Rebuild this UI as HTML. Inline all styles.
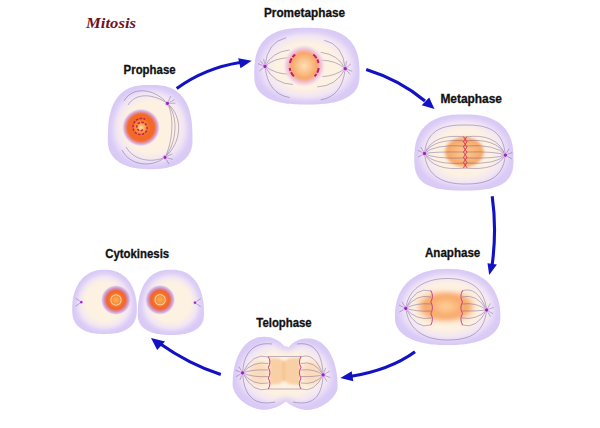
<!DOCTYPE html>
<html><head><meta charset="utf-8"><style>
html,body{margin:0;padding:0;background:#fff;width:600px;height:428px;overflow:hidden}
svg{display:block}
</style></head><body>
<svg width="600" height="428" viewBox="0 0 600 428">

<defs>
<filter id="rim" x="-10%" y="-10%" width="120%" height="120%" color-interpolation-filters="sRGB">
 <feFlood flood-color="#d9caf6" result="p"/>
 <feComposite in="p" in2="SourceAlpha" operator="in" result="pa"/>
 <feMorphology in="SourceAlpha" operator="erode" radius="3" result="e"/>
 <feGaussianBlur in="e" stdDeviation="3" result="b"/>
 <feComposite in="SourceGraphic" in2="b" operator="in" result="c"/>
 <feComposite in="c" in2="SourceAlpha" operator="in" result="cc"/>
 <feMerge><feMergeNode in="pa"/><feMergeNode in="cc"/></feMerge>
</filter>
<radialGradient id="cg" cx="50%" cy="50%" r="50%">
<stop offset="0" stop-color="#fdf1e2"/><stop offset="0.6" stop-color="#fdf1e2"/>
<stop offset="0.8" stop-color="#f2e6f4"/><stop offset="0.95" stop-color="#e0d2f6"/><stop offset="1" stop-color="#dacbf6"/></radialGradient>
<filter id="soft" x="-30%" y="-30%" width="160%" height="160%"><feGaussianBlur stdDeviation="1.6"/></filter>
<filter id="soft2" x="-30%" y="-30%" width="160%" height="160%"><feGaussianBlur stdDeviation="0.8"/></filter>
<filter id="soft3" x="-30%" y="-50%" width="160%" height="200%"><feGaussianBlur stdDeviation="2.2"/></filter>
<radialGradient id="orM" cx="50%" cy="50%" r="50%">
<stop offset="0" stop-color="#fccc94"/><stop offset="0.55" stop-color="#f9b476"/>
<stop offset="0.85" stop-color="#f8a868"/><stop offset="1" stop-color="#f9bc88" stop-opacity="0.3"/></radialGradient>
<radialGradient id="orA" cx="50%" cy="50%" r="50%">
<stop offset="0" stop-color="#fdd4a0"/><stop offset="0.45" stop-color="#f9b274"/>
<stop offset="0.75" stop-color="#f8a666"/><stop offset="1" stop-color="#f9c090" stop-opacity="0.2"/></radialGradient>
<radialGradient id="nucR" cx="50%" cy="50%" r="50%">
<stop offset="0" stop-color="#fde0a0"/><stop offset="0.14" stop-color="#fcb466"/>
<stop offset="0.32" stop-color="#f88038"/><stop offset="0.5" stop-color="#f46824"/>
<stop offset="0.7" stop-color="#f26a2c"/><stop offset="0.8" stop-color="#e48a90"/>
<stop offset="0.9" stop-color="#dab8e6"/>
<stop offset="1" stop-color="#e6d6f4" stop-opacity="0"/></radialGradient>
<radialGradient id="nucC" cx="50%" cy="50%" r="50%">
<stop offset="0" stop-color="#fbb850"/><stop offset="0.2" stop-color="#f89640"/>
<stop offset="0.28" stop-color="#f88c3c"/><stop offset="0.34" stop-color="#fcd4a8"/><stop offset="0.4" stop-color="#f67a34"/>
<stop offset="0.56" stop-color="#f46622"/><stop offset="0.66" stop-color="#ea6e48"/>
<stop offset="0.78" stop-color="#d290c0"/><stop offset="0.9" stop-color="#d8bce8"/><stop offset="1" stop-color="#e0d0f2" stop-opacity="0"/></radialGradient>
<radialGradient id="nucP" cx="50%" cy="50%" r="50%">
<stop offset="0" stop-color="#fde0b4"/><stop offset="0.35" stop-color="#fac08a"/>
<stop offset="0.6" stop-color="#f8a868"/><stop offset="0.7" stop-color="#f4b0a0"/>
<stop offset="0.84" stop-color="#f0cce0"/>
<stop offset="1" stop-color="#f0d8ee" stop-opacity="0"/></radialGradient>
<radialGradient id="orB" cx="50%" cy="50%" r="50%">
<stop offset="0" stop-color="#fcd09c"/><stop offset="0.5" stop-color="#f9b47c"/>
<stop offset="0.78" stop-color="#f8ac70"/>
<stop offset="1" stop-color="#fad4b4" stop-opacity="0"/></radialGradient>
<radialGradient id="cs" cx="50%" cy="50%" r="50%">
<stop offset="0" stop-color="#8424b4"/><stop offset="0.38" stop-color="#9a34c4"/>
<stop offset="0.55" stop-color="#e0a0ee"/><stop offset="1" stop-color="#f8d8f8" stop-opacity="0"/></radialGradient>
</defs>
<text x="86" y="28" font-family="Liberation Serif" font-weight="bold" font-style="italic" font-size="15" fill="#701424" textLength="50" lengthAdjust="spacingAndGlyphs">Mitosis</text>
<text x="123.6" y="73.8" font-family="Liberation Sans" font-weight="bold" font-size="12.4" fill="#111" stroke="#111" stroke-width="0.3" textLength="52" lengthAdjust="spacingAndGlyphs">Prophase</text>
<text x="264" y="17.4" font-family="Liberation Sans" font-weight="bold" font-size="12.4" fill="#111" stroke="#111" stroke-width="0.3" textLength="81" lengthAdjust="spacingAndGlyphs">Prometaphase</text>
<text x="440.4" y="103.4" font-family="Liberation Sans" font-weight="bold" font-size="12.4" fill="#111" stroke="#111" stroke-width="0.3" textLength="61.6" lengthAdjust="spacingAndGlyphs">Metaphase</text>
<text x="425" y="257.1" font-family="Liberation Sans" font-weight="bold" font-size="12.4" fill="#111" stroke="#111" stroke-width="0.3" textLength="55.3" lengthAdjust="spacingAndGlyphs">Anaphase</text>
<text x="256.3" y="326.8" font-family="Liberation Sans" font-weight="bold" font-size="12.4" fill="#111" stroke="#111" stroke-width="0.3" textLength="55.4" lengthAdjust="spacingAndGlyphs">Telophase</text>
<text x="105.2" y="257.9" font-family="Liberation Sans" font-weight="bold" font-size="12.4" fill="#111" stroke="#111" stroke-width="0.3" textLength="64" lengthAdjust="spacingAndGlyphs">Cytokinesis</text>
<path d="M192.45,140.04 L192.42,141.93 L192.34,143.43 L192.20,144.81 L192.01,146.11 L191.76,147.36 L191.46,148.56 L191.11,149.72 L190.70,150.84 L190.23,151.92 L189.71,152.98 L189.14,154.00 L188.52,154.98 L187.85,155.94 L187.12,156.87 L186.34,157.77 L185.52,158.63 L184.64,159.46 L183.71,160.26 L182.74,161.03 L181.71,161.77 L180.64,162.48 L179.52,163.15 L178.36,163.79 L177.15,164.39 L175.89,164.96 L174.59,165.50 L173.25,166.00 L171.85,166.46 L170.42,166.89 L168.94,167.28 L167.41,167.64 L165.83,167.96 L164.20,168.24 L162.52,168.48 L160.78,168.69 L158.97,168.86 L157.08,169.00 L155.07,169.09 L152.89,169.15 L150.15,169.17 L147.41,169.15 L145.23,169.09 L143.22,169.00 L141.33,168.86 L139.52,168.69 L137.78,168.48 L136.10,168.24 L134.47,167.96 L132.89,167.64 L131.36,167.28 L129.88,166.89 L128.45,166.46 L127.06,166.00 L125.71,165.50 L124.41,164.96 L123.15,164.39 L121.94,163.79 L120.78,163.15 L119.66,162.48 L118.59,161.77 L117.57,161.03 L116.59,160.26 L115.66,159.46 L114.79,158.63 L113.96,157.77 L113.18,156.87 L112.45,155.94 L111.78,154.98 L111.16,154.00 L110.59,152.98 L110.07,151.92 L109.61,150.84 L109.20,149.72 L108.84,148.56 L108.54,147.36 L108.29,146.11 L108.10,144.81 L107.96,143.43 L107.88,141.93 L107.85,140.04 L107.87,135.00 L107.95,131.64 L108.07,128.71 L108.23,126.05 L108.45,123.57 L108.72,121.24 L109.03,119.02 L109.39,116.91 L109.80,114.89 L110.25,112.95 L110.75,111.09 L111.30,109.31 L111.90,107.59 L112.55,105.95 L113.24,104.37 L113.98,102.85 L114.76,101.40 L115.60,100.01 L116.47,98.68 L117.40,97.41 L118.37,96.21 L119.40,95.06 L120.46,93.98 L121.58,92.95 L122.74,91.99 L123.96,91.09 L125.22,90.25 L126.54,89.47 L127.91,88.76 L129.34,88.10 L130.83,87.51 L132.38,86.98 L134.00,86.51 L135.70,86.10 L137.50,85.76 L139.40,85.48 L141.45,85.26 L143.69,85.10 L146.28,85.01 L150.15,84.98 L154.02,85.01 L156.61,85.10 L158.85,85.26 L160.90,85.48 L162.80,85.76 L164.60,86.10 L166.30,86.51 L167.92,86.98 L169.47,87.51 L170.96,88.10 L172.39,88.76 L173.76,89.47 L175.08,90.25 L176.34,91.09 L177.56,91.99 L178.72,92.95 L179.84,93.98 L180.91,95.06 L181.93,96.21 L182.90,97.41 L183.83,98.68 L184.71,100.01 L185.54,101.40 L186.32,102.85 L187.06,104.37 L187.75,105.95 L188.40,107.59 L189.00,109.31 L189.55,111.09 L190.05,112.95 L190.50,114.89 L190.91,116.91 L191.27,119.02 L191.59,121.24 L191.85,123.57 L192.07,126.05 L192.23,128.71 L192.36,131.64 L192.43,135.00 Z" fill="url(#cg)" filter="url(#rim)"/>
<path d="M167.4,103.4 C174.82000000000002,117 172.42000000000002,143 165,157.3 M167.4,103.4 C179.02,117 176.62,143 165,157.3 M167.4,103.4 C183.92000000000002,117 181.52,143 165,157.3 M167.4,103.4 C154,88 132,86 124,101 M167.4,103.4 C154,94 136,92 128,105 M165,157.3 C152,168 130,166 122,150 M165,157.3 C152,163 134,161 126,147 M167.4,103.4 L170.8,96.1 M167.4,103.4 L174.5,99.6 M167.4,103.4 L175.4,103.1 M165,157.3 L172.3,153.9 M165,157.3 L172.7,159.4 M165,157.3 L169.0,164.2" fill="none" stroke="#5a4a84" stroke-width="0.65" stroke-opacity="0.62" />
<circle cx="141" cy="127.5" r="19" fill="url(#nucR)"/>
<path d="M142.8,129.6 L142.5,129.9 L142.2,130.2 L141.8,130.4 L141.4,130.6 L141.0,130.7 L140.5,130.7 L140.1,130.7 L139.6,130.6 L139.1,130.5 L138.6,130.2 L138.2,129.9 L137.8,129.6 L137.5,129.1 L137.2,128.7 L137.0,128.1 L136.9,127.6 L136.8,127.0 L136.8,126.4 L137.0,125.7 L137.2,125.1 L137.5,124.6 L137.9,124.0 L138.3,123.6 L138.9,123.2 L139.5,122.8 L140.1,122.6 L140.8,122.4 L141.6,122.3 L142.3,122.4 L143.1,122.5 L143.8,122.8 L144.5,123.2 L145.1,123.7 L145.7,124.2 L146.2,124.9 L146.6,125.6 L146.9,126.4 L147.1,127.2 L147.1,128.1 L147.1,129.0 L146.9,129.8 L146.6,130.7 L146.1,131.5 L145.6,132.2 L144.9,132.9 L144.2,133.5 L143.3,134.0 L142.4,134.3 L141.4,134.5 L140.4,134.6 L139.4,134.5 L138.4,134.3 L137.4,134.0 L136.5,133.5 L135.6,132.8 L134.9,132.1 L134.2,131.2 L133.7,130.3 L133.3,129.2 L133.0,128.1 L132.9,127.0 L133.0,125.8 L133.2,124.7 L133.6,123.6 L134.2,122.5 L134.9,121.6 L135.7,120.7 L136.7,119.9 L137.8,119.3 L138.9,118.9 L140.2,118.6 L141.4,118.5 L142.7,118.5 L144.0,118.8 L145.2,119.2" fill="none" stroke="#b8184a" stroke-width="1.5" stroke-dasharray="2.6 1.3" opacity="0.9"/>
<circle cx="167.4" cy="103.4" r="3.2" fill="url(#cs)"/><circle cx="165" cy="157.3" r="3.2" fill="url(#cs)"/>
<path d="M359.53,75.01 L359.50,77.39 L359.40,79.08 L359.24,80.59 L359.02,81.98 L358.74,83.29 L358.39,84.53 L357.98,85.71 L357.51,86.84 L356.98,87.94 L356.38,88.99 L355.73,90.00 L355.01,90.97 L354.23,91.91 L353.39,92.82 L352.49,93.69 L351.53,94.52 L350.51,95.33 L349.43,96.10 L348.29,96.84 L347.09,97.54 L345.84,98.21 L344.52,98.85 L343.14,99.46 L341.71,100.03 L340.22,100.57 L338.66,101.07 L337.05,101.54 L335.37,101.98 L333.64,102.38 L331.83,102.75 L329.96,103.08 L328.01,103.38 L325.98,103.64 L323.87,103.87 L321.66,104.07 L319.33,104.23 L316.85,104.35 L314.16,104.44 L311.14,104.49 L306.89,104.51 L302.65,104.49 L299.62,104.44 L296.93,104.35 L294.46,104.23 L292.13,104.07 L289.91,103.87 L287.80,103.64 L285.77,103.38 L283.83,103.08 L281.95,102.75 L280.15,102.38 L278.41,101.98 L276.73,101.54 L275.12,101.07 L273.57,100.57 L272.07,100.03 L270.64,99.46 L269.27,98.85 L267.95,98.21 L266.69,97.54 L265.49,96.84 L264.36,96.10 L263.28,95.33 L262.26,94.52 L261.29,93.69 L260.39,92.82 L259.55,91.91 L258.78,90.97 L258.06,90.00 L257.40,88.99 L256.81,87.94 L256.27,86.84 L255.80,85.71 L255.39,84.53 L255.05,83.29 L254.76,81.98 L254.54,80.59 L254.38,79.08 L254.29,77.39 L254.26,75.01 L254.29,70.58 L254.38,67.67 L254.52,65.14 L254.73,62.85 L255.00,60.72 L255.32,58.71 L255.71,56.81 L256.15,55.00 L256.66,53.27 L257.22,51.61 L257.84,50.03 L258.52,48.50 L259.25,47.04 L260.05,45.63 L260.90,44.28 L261.81,42.99 L262.78,41.75 L263.81,40.57 L264.90,39.43 L266.04,38.36 L267.24,37.33 L268.50,36.36 L269.83,35.43 L271.21,34.56 L272.65,33.75 L274.15,32.98 L275.72,32.27 L277.35,31.60 L279.05,31.00 L280.82,30.44 L282.66,29.94 L284.59,29.48 L286.61,29.09 L288.73,28.74 L290.96,28.45 L293.34,28.21 L295.89,28.02 L298.71,27.89 L301.96,27.81 L306.89,27.78 L311.82,27.81 L315.08,27.89 L317.89,28.02 L320.45,28.21 L322.82,28.45 L325.06,28.74 L327.18,29.09 L329.19,29.48 L331.12,29.94 L332.97,30.44 L334.74,31.00 L336.44,31.60 L338.07,32.27 L339.63,32.98 L341.14,33.75 L342.58,34.56 L343.96,35.43 L345.28,36.36 L346.54,37.33 L347.74,38.36 L348.89,39.43 L349.97,40.57 L351.00,41.75 L351.97,42.99 L352.88,44.28 L353.74,45.63 L354.53,47.04 L355.27,48.50 L355.95,50.03 L356.57,51.61 L357.13,53.27 L357.63,55.00 L358.08,56.81 L358.46,58.71 L358.79,60.72 L359.05,62.85 L359.26,65.14 L359.41,67.67 L359.50,70.58 Z" fill="url(#cg)" filter="url(#rim)"/>
<path d="M265,66.3 Q267.0,42.0 286.1,37.8 M345.2,68.7 Q343.20000000000005,44.4 324.1,40.199999999999996 M265,66.3 Q272.0,52.0 289.6,49.9 M345.2,68.7 Q338.20000000000005,54.4 320.6,52.3 M265,66.3 Q274.0,58.0 289.6,57.7 M345.2,68.7 Q336.20000000000005,60.4 320.6,60.1 M265,66.3 Q276.0,74.0 287.9,74.1 M345.2,68.7 Q334.20000000000005,76.4 322.30000000000007,76.5 M265,66.3 Q274.0,84.0 293,84.5 M345.2,68.7 Q336.20000000000005,86.4 317.20000000000005,86.9 M265,66.3 Q268.0,94.0 289.6,97.5 M345.2,68.7 Q342.20000000000005,96.4 320.6,99.9 M265,66.3 L259.3,71.1 M265,66.3 L258.0,63.7 M265,66.3 L260.2,60.6 M265,66.3 L263.7,58.9 M345.2,68.7 L346.5,61.3 M345.2,68.7 L350.9,63.9 M345.2,68.7 L352.2,71.3 M345.2,68.7 L350.0,74.4" fill="none" stroke="#5a4a84" stroke-width="0.65" stroke-opacity="0.62" />
<circle cx="304.2" cy="65.8" r="21" fill="url(#nucP)"/>
<path d="M289.9,63.0 A14.6,14.6 0 0 1 295.2,54.5 M293.9,76.3 A14.6,14.6 0 0 1 289.7,68.0 M313.2,54.5 A14.6,14.6 0 0 1 318.5,63.0 M318.7,68.0 A14.6,14.6 0 0 1 314.5,76.3" fill="none" stroke="#c0206e" stroke-width="2" stroke-dasharray="5 1.4"/>
<circle cx="265" cy="66.3" r="3.4" fill="url(#cs)"/><circle cx="345.2" cy="68.7" r="3.4" fill="url(#cs)"/>
<path d="M513.47,158.68 L513.44,162.02 L513.36,164.09 L513.23,165.84 L513.04,167.42 L512.80,168.87 L512.51,170.22 L512.16,171.50 L511.77,172.71 L511.31,173.86 L510.81,174.96 L510.25,176.01 L509.64,177.02 L508.98,177.98 L508.26,178.90 L507.49,179.79 L506.67,180.63 L505.79,181.44 L504.86,182.21 L503.88,182.94 L502.84,183.64 L501.75,184.31 L500.60,184.94 L499.40,185.53 L498.14,186.10 L496.82,186.62 L495.45,187.12 L494.01,187.58 L492.50,188.00 L490.94,188.39 L489.30,188.75 L487.58,189.07 L485.78,189.36 L483.90,189.62 L481.90,189.84 L479.79,190.03 L477.52,190.18 L475.06,190.30 L472.33,190.38 L469.10,190.44 L463.90,190.45 L458.69,190.44 L455.47,190.38 L452.73,190.30 L450.27,190.18 L448.01,190.03 L445.89,189.84 L443.90,189.62 L442.01,189.36 L440.21,189.07 L438.50,188.75 L436.86,188.39 L435.29,188.00 L433.79,187.58 L432.35,187.12 L430.97,186.62 L429.65,186.10 L428.39,185.53 L427.19,184.94 L426.04,184.31 L424.95,183.64 L423.91,182.94 L422.93,182.21 L422.00,181.44 L421.13,180.63 L420.30,179.79 L419.53,178.90 L418.82,177.98 L418.15,177.02 L417.54,176.01 L416.98,174.96 L416.48,173.86 L416.03,172.71 L415.63,171.50 L415.28,170.22 L414.99,168.87 L414.75,167.42 L414.57,165.84 L414.43,164.09 L414.35,162.02 L414.33,158.68 L414.36,155.23 L414.45,152.73 L414.60,150.49 L414.81,148.42 L415.08,146.47 L415.41,144.61 L415.80,142.84 L416.25,141.14 L416.76,139.50 L417.32,137.91 L417.95,136.39 L418.64,134.92 L419.38,133.50 L420.18,132.14 L421.04,130.82 L421.95,129.56 L422.92,128.34 L423.95,127.18 L425.03,126.06 L426.17,124.99 L427.37,123.97 L428.62,123.01 L429.92,122.09 L431.28,121.22 L432.70,120.40 L434.17,119.64 L435.70,118.92 L437.29,118.26 L438.94,117.65 L440.64,117.09 L442.41,116.58 L444.25,116.13 L446.16,115.73 L448.14,115.38 L450.22,115.08 L452.40,114.84 L454.72,114.65 L457.22,114.52 L460.03,114.44 L463.90,114.41 L467.76,114.44 L470.57,114.52 L473.07,114.65 L475.39,114.84 L477.57,115.08 L479.65,115.38 L481.64,115.73 L483.55,116.13 L485.38,116.58 L487.15,117.09 L488.86,117.65 L490.50,118.26 L492.09,118.92 L493.62,119.64 L495.09,120.40 L496.51,121.22 L497.87,122.09 L499.18,123.01 L500.43,123.97 L501.62,124.99 L502.76,126.06 L503.84,127.18 L504.87,128.34 L505.84,129.56 L506.76,130.82 L507.62,132.14 L508.42,133.50 L509.16,134.92 L509.84,136.39 L510.47,137.91 L511.04,139.50 L511.55,141.14 L511.99,142.84 L512.38,144.61 L512.71,146.47 L512.99,148.42 L513.20,150.49 L513.35,152.73 L513.44,155.23 Z" fill="url(#cg)" filter="url(#rim)"/>
<ellipse cx="464.4" cy="152" rx="20.5" ry="15.8" fill="url(#orM)" filter="url(#soft2)"/>
<path d="M424.5,153.5 C427,128 445,125 465,125 C485,125 503,128 505.3,155.1 M424.5,153.5 C427,178 445,184 465,184 C485,184 503,180 505.3,155.1 M424.5,153.5 Q433.4,132.9 465,137 M424.5,153.5 Q433.4,137.9 465,141 M424.5,153.5 Q433.4,144.1 465,146 M424.5,153.5 Q433.4,151.6 465,152 M424.5,153.5 Q433.4,159.1 465,158 M424.5,153.5 Q433.4,165.4 465,163 M424.5,153.5 Q433.4,171.6 465,168 M505.3,155.1 Q496.4,132.5 465,137 M505.3,155.1 Q496.4,137.5 465,141 M505.3,155.1 Q496.4,143.7 465,146 M505.3,155.1 Q496.4,151.2 465,152 M505.3,155.1 Q496.4,158.7 465,158 M505.3,155.1 Q496.4,165.0 465,163 M505.3,155.1 Q496.4,171.2 465,168 M424.5,153.5 L418.0,157.2 M424.5,153.5 L417.7,150.3 M424.5,153.5 L420.8,147.0 M505.3,155.1 L509.1,148.6 M505.3,155.1 L512.3,152.5 M505.3,155.1 L511.8,158.8" fill="none" stroke="#5a4a84" stroke-width="0.65" stroke-opacity="0.62" />
<path d="M463.4,136.5 L467.0,141.7 L463.4,146.9 L467.0,152.1 L463.4,157.3 L467.0,162.5 L463.4,167.7 M467.0,136.5 L463.4,141.7 L467.0,146.9 L463.4,152.1 L467.0,157.3 L463.4,162.5 L467.0,167.7" fill="none" stroke="#d82048" stroke-width="0.8"/>
<circle cx="424.5" cy="153.5" r="3.4" fill="url(#cs)"/><circle cx="505.3" cy="155.1" r="3.4" fill="url(#cs)"/>
<path d="M500.35,317.15 L500.32,318.87 L500.21,320.26 L500.04,321.56 L499.79,322.79 L499.48,323.97 L499.09,325.12 L498.64,326.22 L498.12,327.29 L497.53,328.33 L496.87,329.35 L496.15,330.33 L495.36,331.28 L494.50,332.21 L493.58,333.10 L492.60,333.97 L491.55,334.80 L490.44,335.61 L489.27,336.39 L488.03,337.14 L486.74,337.85 L485.38,338.54 L483.97,339.19 L482.50,339.81 L480.98,340.40 L479.40,340.96 L477.76,341.48 L476.07,341.97 L474.32,342.42 L472.52,342.84 L470.67,343.22 L468.76,343.57 L466.79,343.88 L464.77,344.16 L462.68,344.40 L460.52,344.60 L458.29,344.77 L455.96,344.90 L453.52,344.99 L450.88,345.04 L447.64,345.06 L444.41,345.04 L441.77,344.99 L439.32,344.90 L437.00,344.77 L434.76,344.60 L432.61,344.40 L430.52,344.16 L428.50,343.88 L426.53,343.57 L424.62,343.22 L422.76,342.84 L420.96,342.42 L419.22,341.97 L417.53,341.48 L415.89,340.96 L414.31,340.40 L412.78,339.81 L411.31,339.19 L409.90,338.54 L408.55,337.85 L407.26,337.14 L406.02,336.39 L404.85,335.61 L403.74,334.80 L402.69,333.97 L401.70,333.10 L400.78,332.21 L399.93,331.28 L399.14,330.33 L398.41,329.35 L397.76,328.33 L397.17,327.29 L396.64,326.22 L396.19,325.12 L395.81,323.97 L395.49,322.79 L395.25,321.56 L395.07,320.26 L394.97,318.87 L394.93,317.15 L394.97,314.17 L395.07,311.74 L395.25,309.49 L395.49,307.35 L395.81,305.30 L396.19,303.32 L396.64,301.41 L397.16,299.55 L397.75,297.75 L398.40,296.00 L399.12,294.30 L399.91,292.65 L400.77,291.06 L401.69,289.51 L402.67,288.01 L403.71,286.56 L404.82,285.17 L405.99,283.82 L407.22,282.53 L408.52,281.29 L409.87,280.11 L411.27,278.98 L412.74,277.91 L414.26,276.89 L415.84,275.93 L417.48,275.03 L419.17,274.19 L420.91,273.41 L422.71,272.69 L424.56,272.02 L426.47,271.42 L428.44,270.88 L430.46,270.41 L432.55,269.99 L434.71,269.64 L436.95,269.36 L439.28,269.13 L441.73,268.97 L444.38,268.88 L447.64,268.84 L450.90,268.88 L453.55,268.97 L456.01,269.13 L458.34,269.36 L460.58,269.64 L462.73,269.99 L464.82,270.41 L466.85,270.88 L468.81,271.42 L470.72,272.02 L472.58,272.69 L474.38,273.41 L476.12,274.19 L477.81,275.03 L479.44,275.93 L481.02,276.89 L482.55,277.91 L484.01,278.98 L485.42,280.11 L486.77,281.29 L488.06,282.53 L489.29,283.82 L490.46,285.17 L491.57,286.56 L492.62,288.01 L493.60,289.51 L494.52,291.06 L495.37,292.65 L496.16,294.30 L496.88,296.00 L497.54,297.75 L498.13,299.55 L498.65,301.41 L499.10,303.32 L499.48,305.30 L499.79,307.35 L500.04,309.49 L500.21,311.74 L500.32,314.17 Z" fill="url(#cg)" filter="url(#rim)"/>
<rect x="416" y="290.5" width="60" height="32" rx="14" ry="13" fill="url(#orA)" filter="url(#soft3)"/>
<path d="M405.8,308.3 C409,285 430,278.5 447,278.5 C466,278.5 484,285 486.6,310 M405.8,308.3 C409,334 430,340 447,340 C466,340 484,336 486.6,310 M405.8,308.3 Q415.9,285.8 431,291 M405.8,308.3 Q415.9,293.6 431,297 M405.8,308.3 Q415.9,302.7 431,304 M405.8,308.3 Q415.9,311.8 431,311 M405.8,308.3 Q415.9,320.9 431,318 M405.8,308.3 Q415.9,330.0 431,325 M486.6,310 Q476.8,285.3 462,291 M486.6,310 Q476.8,293.1 462,297 M486.6,310 Q476.8,302.2 462,304 M486.6,310 Q476.8,311.3 462,311 M486.6,310 Q476.8,320.4 462,318 M486.6,310 Q476.8,329.5 462,325 M405.8,308.3 L399.3,312.1 M405.8,308.3 L399.0,305.1 M405.8,308.3 L402.1,301.8 M486.6,310 L490.4,303.5 M486.6,310 L493.6,307.4 M486.6,310 L493.1,313.8 M486.6,310 L490.4,316.5" fill="none" stroke="#5a4a84" stroke-width="0.65" stroke-opacity="0.62" />
<path d="M430.8,290.5 Q434.0,296.2 430.8,302.0 Q434.0,307.8 430.8,313.5 Q434.0,319.2 430.8,325.0 M462.5,290.5 Q459.3,296.2 462.5,302.0 Q459.3,307.8 462.5,313.5 Q459.3,319.2 462.5,325.0" fill="none" stroke="#c83080" stroke-width="0.9"/>
<circle cx="405.8" cy="308.3" r="3.4" fill="url(#cs)"/><circle cx="486.6" cy="310" r="3.4" fill="url(#cs)"/>
<path d="M295.62,384.80 L295.59,385.45 L295.51,386.22 L295.37,387.04 L295.18,387.89 L294.94,388.77 L294.64,389.65 L294.29,390.56 L293.89,391.46 L293.43,392.37 L292.93,393.28 L292.38,394.18 L291.78,395.08 L291.13,395.97 L290.44,396.84 L289.70,397.71 L288.93,398.56 L288.11,399.38 L287.25,400.19 L286.36,400.98 L285.43,401.74 L284.48,402.48 L283.49,403.19 L282.47,403.87 L281.43,404.52 L280.36,405.14 L279.28,405.72 L278.17,406.27 L277.06,406.79 L275.93,407.27 L274.79,407.71 L273.65,408.11 L272.51,408.47 L271.37,408.79 L270.24,409.07 L269.12,409.30 L268.02,409.50 L266.95,409.65 L265.92,409.76 L264.95,409.82 L264.13,409.84 L263.31,409.82 L262.35,409.76 L261.31,409.65 L260.24,409.50 L259.14,409.30 L258.03,409.07 L256.89,408.79 L255.75,408.47 L254.61,408.11 L253.47,407.71 L252.33,407.27 L251.21,406.79 L250.09,406.27 L248.99,405.72 L247.90,405.14 L246.84,404.52 L245.79,403.87 L244.78,403.19 L243.79,402.48 L242.83,401.74 L241.90,400.98 L241.01,400.19 L240.15,399.38 L239.34,398.56 L238.56,397.71 L237.82,396.84 L237.13,395.97 L236.48,395.08 L235.88,394.18 L235.33,393.28 L234.83,392.37 L234.37,391.46 L233.97,390.56 L233.62,389.65 L233.32,388.77 L233.08,387.89 L232.89,387.04 L232.75,386.22 L232.67,385.45 L232.64,384.80 L232.66,382.36 L232.73,380.18 L232.84,378.10 L233.00,376.08 L233.20,374.12 L233.44,372.20 L233.73,370.33 L234.06,368.49 L234.44,366.70 L234.85,364.95 L235.31,363.24 L235.81,361.57 L236.36,359.95 L236.94,358.36 L237.56,356.83 L238.22,355.34 L238.92,353.90 L239.66,352.51 L240.43,351.17 L241.24,349.88 L242.08,348.65 L242.96,347.47 L243.87,346.34 L244.82,345.28 L245.79,344.27 L246.80,343.32 L247.84,342.43 L248.90,341.61 L250.00,340.84 L251.12,340.14 L252.27,339.51 L253.44,338.94 L254.64,338.43 L255.87,337.99 L257.13,337.62 L258.42,337.31 L259.74,337.07 L261.10,336.90 L262.53,336.80 L264.13,336.77 L265.73,336.80 L267.16,336.90 L268.52,337.07 L269.85,337.31 L271.13,337.62 L272.39,337.99 L273.62,338.43 L274.82,338.94 L276.00,339.51 L277.14,340.14 L278.27,340.84 L279.36,341.61 L280.43,342.43 L281.46,343.32 L282.47,344.27 L283.44,345.28 L284.39,346.34 L285.30,347.47 L286.18,348.65 L287.02,349.88 L287.83,351.17 L288.61,352.51 L289.34,353.90 L290.04,355.34 L290.70,356.83 L291.33,358.36 L291.91,359.95 L292.45,361.57 L292.95,363.24 L293.41,364.95 L293.83,366.70 L294.20,368.49 L294.53,370.33 L294.82,372.20 L295.06,374.12 L295.26,376.08 L295.42,378.10 L295.53,380.18 L295.60,382.36 Z M337.60,387.40 L337.58,387.90 L337.49,388.52 L337.36,389.21 L337.16,389.94 L336.92,390.70 L336.62,391.47 L336.26,392.27 L335.86,393.07 L335.40,393.88 L334.90,394.70 L334.34,395.51 L333.74,396.33 L333.10,397.14 L332.40,397.94 L331.67,398.73 L330.90,399.51 L330.08,400.27 L329.23,401.02 L328.35,401.75 L327.43,402.46 L326.48,403.15 L325.50,403.81 L324.50,404.45 L323.48,405.06 L322.44,405.63 L321.38,406.18 L320.31,406.70 L319.23,407.19 L318.14,407.64 L317.05,408.05 L315.96,408.43 L314.87,408.77 L313.80,409.07 L312.74,409.34 L311.70,409.56 L310.69,409.74 L309.72,409.89 L308.80,409.99 L307.96,410.05 L307.29,410.07 L306.63,410.05 L305.79,409.99 L304.87,409.89 L303.90,409.74 L302.89,409.56 L301.85,409.34 L300.79,409.07 L299.71,408.77 L298.63,408.43 L297.54,408.05 L296.45,407.64 L295.36,407.19 L294.28,406.70 L293.20,406.18 L292.15,405.63 L291.10,405.06 L290.08,404.45 L289.08,403.81 L288.11,403.15 L287.16,402.46 L286.24,401.75 L285.36,401.02 L284.50,400.27 L283.69,399.51 L282.92,398.73 L282.18,397.94 L281.49,397.14 L280.84,396.33 L280.24,395.51 L279.69,394.70 L279.18,393.88 L278.73,393.07 L278.32,392.27 L277.97,391.47 L277.67,390.70 L277.42,389.94 L277.23,389.21 L277.09,388.52 L277.01,387.90 L276.98,387.40 L277.00,384.92 L277.07,382.71 L277.18,380.59 L277.33,378.54 L277.52,376.54 L277.76,374.58 L278.03,372.67 L278.35,370.80 L278.71,368.98 L279.12,367.19 L279.56,365.45 L280.04,363.74 L280.56,362.09 L281.12,360.47 L281.72,358.91 L282.36,357.39 L283.03,355.92 L283.74,354.50 L284.49,353.13 L285.27,351.82 L286.08,350.56 L286.93,349.35 L287.81,348.20 L288.72,347.12 L289.66,346.09 L290.63,345.12 L291.63,344.21 L292.65,343.37 L293.71,342.59 L294.79,341.87 L295.89,341.22 L297.02,340.64 L298.18,340.12 L299.36,339.68 L300.57,339.30 L301.81,338.98 L303.08,338.74 L304.39,338.57 L305.76,338.46 L307.29,338.43 L308.83,338.46 L310.20,338.57 L311.51,338.74 L312.78,338.98 L314.02,339.30 L315.22,339.68 L316.41,340.12 L317.56,340.64 L318.70,341.22 L319.80,341.87 L320.88,342.59 L321.93,343.37 L322.96,344.21 L323.96,345.12 L324.93,346.09 L325.87,347.12 L326.78,348.20 L327.66,349.35 L328.50,350.56 L329.32,351.82 L330.10,353.13 L330.84,354.50 L331.55,355.92 L332.23,357.39 L332.86,358.91 L333.46,360.47 L334.02,362.09 L334.55,363.74 L335.03,365.45 L335.47,367.19 L335.87,368.98 L336.23,370.80 L336.55,372.67 L336.83,374.58 L337.07,376.54 L337.26,378.54 L337.41,380.59 L337.52,382.71 L337.58,384.92 Z M276,373.5 A10,27.3 0 1 1 296,373.5 A10,27.3 0 1 1 276,373.5 Z" fill="url(#cg)" filter="url(#rim)"/>
<ellipse cx="259" cy="373" rx="10" ry="12" fill="#f9cca0" opacity="0.55" filter="url(#soft3)"/>
<ellipse cx="311" cy="373" rx="10" ry="12" fill="#f9cca0" opacity="0.55" filter="url(#soft3)"/>
<path d="M269.5,358 L279,358.5 L283,361 L285.2,361 L289,358.5 L300,357.5 L300,385.2 L289,384 L285.2,381 L283,381 L279,384 L269.5,384.7 Z" fill="#f9d0a6" filter="url(#soft2)"/>
<rect x="282.4" y="361" width="2.8" height="20" fill="#f6b878" opacity="0.55" filter="url(#soft2)"/>
<path d="M242.6,372.9 C244,350 256,342 272,344 M242.6,372.9 C244,398 256,406 275,402 M323.1,374.9 C322,350 312,342 297,344 M323.1,374.9 C322,398 312,406 293,402 M242.6,372.9 Q252.9,352.2 268.3,357 M242.6,372.9 Q252.9,360.7 268.3,363.5 M242.6,372.9 Q252.9,369.1 268.3,370 M242.6,372.9 Q252.9,377.6 268.3,376.5 M242.6,372.9 Q252.9,386.0 268.3,383 M242.6,372.9 Q252.9,393.8 268.3,389 M323.1,374.9 Q314.3,351.6 301,357 M323.1,374.9 Q314.3,360.1 301,363.5 M323.1,374.9 Q314.3,368.5 301,370 M323.1,374.9 Q314.3,377.0 301,376.5 M323.1,374.9 Q314.3,385.4 301,383 M323.1,374.9 Q314.3,393.2 301,389 M268.3,356.5 L301,356.5 M268.3,389 L301,389 M242.6,372.9 L236.1,376.6 M242.6,372.9 L235.6,370.3 M242.6,372.9 L238.8,366.4 M242.6,372.9 L240.0,379.9 M323.1,374.9 L325.7,367.9 M323.1,374.9 L329.6,371.1 M323.1,374.9 L330.1,377.5 M323.1,374.9 L326.9,381.4" fill="none" stroke="#5a4a84" stroke-width="0.65" stroke-opacity="0.62" />
<path d="M268.3,356.5 Q271.5,361.9 268.3,367.3 Q271.5,372.8 268.3,378.2 Q271.5,383.6 268.3,389.0 M301,356.5 Q297.8,361.9 301,367.3 Q297.8,372.8 301,378.2 Q297.8,383.6 301,389.0" fill="none" stroke="#c83080" stroke-width="0.9"/>
<circle cx="242.6" cy="372.9" r="3.4" fill="url(#cs)"/><circle cx="323.1" cy="374.9" r="3.4" fill="url(#cs)"/>
<path d="M136.79,309.32 L136.77,311.17 L136.71,312.53 L136.62,313.76 L136.48,314.90 L136.30,315.98 L136.08,317.01 L135.82,317.99 L135.52,318.94 L135.19,319.85 L134.81,320.73 L134.40,321.58 L133.95,322.40 L133.46,323.19 L132.93,323.96 L132.36,324.69 L131.76,325.40 L131.12,326.08 L130.44,326.74 L129.73,327.36 L128.98,327.96 L128.19,328.54 L127.37,329.08 L126.51,329.60 L125.61,330.08 L124.68,330.54 L123.72,330.97 L122.71,331.38 L121.67,331.75 L120.60,332.09 L119.48,332.41 L118.32,332.69 L117.13,332.95 L115.88,333.18 L114.59,333.37 L113.24,333.54 L111.82,333.67 L110.32,333.78 L108.71,333.86 L106.92,333.90 L104.49,333.92 L102.06,333.90 L100.27,333.86 L98.65,333.78 L97.16,333.67 L95.74,333.54 L94.39,333.37 L93.10,333.18 L91.85,332.95 L90.66,332.69 L89.50,332.41 L88.38,332.09 L87.31,331.75 L86.27,331.38 L85.26,330.97 L84.30,330.54 L83.36,330.08 L82.47,329.60 L81.61,329.08 L80.79,328.54 L80.00,327.96 L79.25,327.36 L78.54,326.74 L77.86,326.08 L77.22,325.40 L76.62,324.69 L76.05,323.96 L75.52,323.19 L75.03,322.40 L74.58,321.58 L74.17,320.73 L73.79,319.85 L73.46,318.94 L73.16,317.99 L72.90,317.01 L72.68,315.98 L72.50,314.90 L72.36,313.76 L72.26,312.53 L72.21,311.17 L72.19,309.32 L72.21,307.13 L72.27,305.26 L72.39,303.49 L72.54,301.79 L72.74,300.14 L72.99,298.54 L73.27,296.98 L73.60,295.46 L73.98,293.98 L74.40,292.54 L74.86,291.13 L75.36,289.76 L75.90,288.43 L76.48,287.14 L77.11,285.89 L77.77,284.67 L78.47,283.50 L79.21,282.37 L79.99,281.28 L80.81,280.24 L81.66,279.24 L82.54,278.28 L83.46,277.37 L84.42,276.51 L85.41,275.70 L86.43,274.93 L87.48,274.21 L88.56,273.55 L89.68,272.93 L90.82,272.37 L92.00,271.86 L93.21,271.40 L94.44,270.99 L95.71,270.64 L97.02,270.34 L98.36,270.09 L99.74,269.90 L101.18,269.76 L102.71,269.68 L104.49,269.65 L106.27,269.68 L107.80,269.76 L109.24,269.90 L110.62,270.09 L111.96,270.34 L113.27,270.64 L114.54,270.99 L115.77,271.40 L116.98,271.86 L118.16,272.37 L119.30,272.93 L120.42,273.55 L121.50,274.21 L122.55,274.93 L123.57,275.70 L124.56,276.51 L125.52,277.37 L126.44,278.28 L127.32,279.24 L128.17,280.24 L128.99,281.28 L129.77,282.37 L130.51,283.50 L131.21,284.67 L131.87,285.89 L132.50,287.14 L133.08,288.43 L133.62,289.76 L134.12,291.13 L134.58,292.54 L135.00,293.98 L135.37,295.46 L135.71,296.98 L135.99,298.54 L136.24,300.14 L136.44,301.79 L136.59,303.49 L136.70,305.26 L136.77,307.13 Z" fill="url(#cg)" filter="url(#rim)"/>
<path d="M203.99,314.33 L203.96,315.72 L203.90,316.80 L203.79,317.79 L203.65,318.72 L203.46,319.61 L203.22,320.46 L202.95,321.28 L202.63,322.08 L202.27,322.85 L201.87,323.59 L201.43,324.31 L200.95,325.01 L200.43,325.68 L199.87,326.33 L199.27,326.96 L198.63,327.57 L197.95,328.15 L197.23,328.72 L196.48,329.26 L195.69,329.77 L194.86,330.27 L193.99,330.74 L193.09,331.18 L192.15,331.61 L191.17,332.01 L190.16,332.38 L189.12,332.73 L188.03,333.05 L186.92,333.35 L185.76,333.63 L184.57,333.88 L183.33,334.10 L182.06,334.30 L180.74,334.47 L179.37,334.61 L177.95,334.73 L176.45,334.82 L174.86,334.89 L173.12,334.93 L170.89,334.94 L168.66,334.93 L166.92,334.89 L165.33,334.82 L163.83,334.73 L162.41,334.61 L161.04,334.47 L159.72,334.30 L158.45,334.10 L157.22,333.88 L156.02,333.63 L154.87,333.35 L153.75,333.05 L152.67,332.73 L151.62,332.38 L150.61,332.01 L149.63,331.61 L148.69,331.18 L147.79,330.74 L146.92,330.27 L146.10,329.77 L145.30,329.26 L144.55,328.72 L143.83,328.15 L143.15,327.57 L142.51,326.96 L141.91,326.33 L141.35,325.68 L140.83,325.01 L140.35,324.31 L139.91,323.59 L139.51,322.85 L139.15,322.08 L138.83,321.28 L138.56,320.46 L138.33,319.61 L138.14,318.72 L137.99,317.79 L137.88,316.80 L137.82,315.72 L137.80,314.33 L137.82,311.43 L137.88,309.13 L137.99,307.01 L138.14,305.01 L138.33,303.10 L138.57,301.27 L138.85,299.49 L139.17,297.78 L139.53,296.11 L139.94,294.50 L140.38,292.93 L140.87,291.42 L141.40,289.95 L141.97,288.53 L142.57,287.16 L143.22,285.83 L143.91,284.56 L144.63,283.33 L145.40,282.15 L146.20,281.02 L147.04,279.94 L147.91,278.91 L148.82,277.93 L149.77,277.00 L150.75,276.13 L151.77,275.31 L152.82,274.54 L153.91,273.83 L155.03,273.18 L156.19,272.57 L157.39,272.03 L158.62,271.54 L159.89,271.11 L161.21,270.73 L162.57,270.41 L163.99,270.15 L165.47,269.95 L167.04,269.80 L168.74,269.71 L170.89,269.69 L173.04,269.71 L174.74,269.80 L176.31,269.95 L177.79,270.15 L179.21,270.41 L180.57,270.73 L181.89,271.11 L183.16,271.54 L184.39,272.03 L185.59,272.57 L186.75,273.18 L187.87,273.83 L188.96,274.54 L190.01,275.31 L191.03,276.13 L192.01,277.00 L192.96,277.93 L193.87,278.91 L194.75,279.94 L195.59,281.02 L196.39,282.15 L197.15,283.33 L197.87,284.56 L198.56,285.83 L199.21,287.16 L199.82,288.53 L200.38,289.95 L200.91,291.42 L201.40,292.93 L201.84,294.50 L202.25,296.11 L202.61,297.78 L202.93,299.49 L203.21,301.27 L203.45,303.10 L203.64,305.01 L203.79,307.01 L203.90,309.13 L203.96,311.43 Z" fill="url(#cg)" filter="url(#rim)"/>
<circle cx="116" cy="300" r="15" fill="url(#nucC)"/>
<circle cx="160.1" cy="299.8" r="15" fill="url(#nucC)"/>
<path d="M81.3,302.2 L75.6,298.2 M81.3,302.2 L75.6,306.2 M195,302.6 L200.7,298.6 M195,302.6 L200.7,306.6" fill="none" stroke="#5a4a84" stroke-width="0.65" stroke-opacity="0.62" />
<circle cx="81.3" cy="302.2" r="2.4" fill="url(#cs)"/><circle cx="195" cy="302.6" r="2.4" fill="url(#cs)"/>
<path d="M176.7,88.5 Q205,68 240,62.5" fill="none" stroke="#1212c4" stroke-width="3.1" stroke-linecap="butt"/>
<path d="M251.7,60.7 L238.2,58.2 L240.5,68.2 Z" fill="#1212c4"/>
<path d="M366.2,69.5 Q400,80 425,101" fill="none" stroke="#1212c4" stroke-width="3.1" stroke-linecap="butt"/>
<path d="M434.5,109 L421.7,105.2 L429.2,97.4 Z" fill="#1212c4"/>
<path d="M492.2,196.2 Q497,230 492,266" fill="none" stroke="#1212c4" stroke-width="3.1" stroke-linecap="butt"/>
<path d="M489.2,275 L487.5,263.3 L496.9,264.4 Z" fill="#1212c4"/>
<path d="M415,351.7 Q390,370 350,376.5" fill="none" stroke="#1212c4" stroke-width="3.1" stroke-linecap="butt"/>
<path d="M340.3,378 L351.7,371.3 L353.3,381.3 Z" fill="#1212c4"/>
<path d="M220.8,374.5 C200,368 176,355 159,343" fill="none" stroke="#1212c4" stroke-width="3.1" stroke-linecap="butt"/>
<path d="M151,338 L165,341.5 L157.2,350 Z" fill="#1212c4"/>
</svg></body></html>
